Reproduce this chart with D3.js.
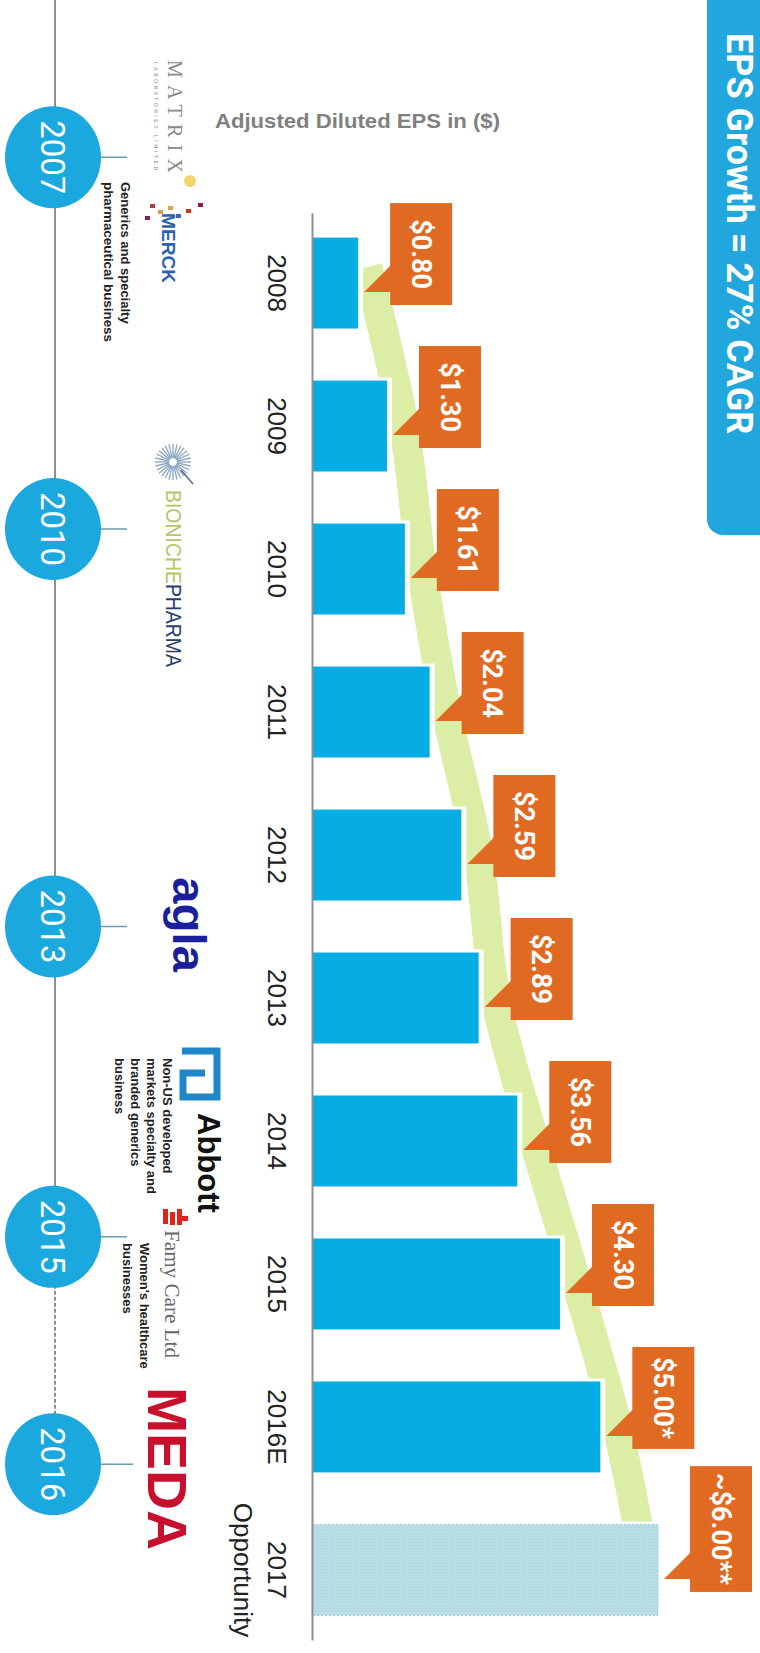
<!DOCTYPE html>
<html><head><meta charset="utf-8">
<script src="https://cdn.jsdelivr.net/npm/d3@7"></script>
<style>html,body{margin:0;padding:0;background:#fff;} svg{display:block;}</style>
</head><body>
<svg id="c" width="760" height="1653"></svg>
<script>
// ---------- data ----------
const categories = ["2008","2009","2010","2011","2012","2013","2014","2015","2016E","2017"];
const subLabels  = ["","","","","","","","","","Opportunity"];
const epsValues  = [0.80,1.30,1.61,2.04,2.59,2.89,3.56,4.30,5.00,6.00];
const valueLabels = ["$0.80","$1.30","$1.61","$2.04","$2.59","$2.89","$3.56","$4.30","$5.00*","~$6.00**"];
const isProjection = [false,false,false,false,false,false,false,false,false,true];
const timelineYears = ["2007","2010","2013","2015","2016"];
const titleText = "EPS Growth = 27% CAGR";
const axisTitle = "Adjusted Diluted EPS in ($)";

// ---------- layout ----------
const tlAnchor = ["2008","2010","2013","2015","2016E"];
const tlShift  = [-0.88,-0.28,-0.5,-0.33,0.26];

const svg = d3.select("#c");
const FONT = "Roboto, 'Liberation Sans', Arial, sans-serif";
const ARIAL = "'Liberation Sans', Arial, sans-serif";

const y = d3.scaleBand().domain(categories).range([213,1640]).paddingInner(0.364).paddingOuter(0.172);
const x = d3.scaleLinear().domain([0,6]).range([312,658]);
const bw = y.bandwidth();
const cy = c => y(c) + bw/2;

function rtext(parent, tx, ty, txt){
  return parent.append("text").attr("transform", `translate(${tx},${ty}) rotate(90)`).text(txt);
}

// defs pattern for projection bar
const defs = svg.append("defs");
const pat = defs.append("pattern").attr("id","dots").attr("width",3).attr("height",3).attr("patternUnits","userSpaceOnUse");
pat.append("rect").attr("width",3).attr("height",3).attr("fill","#b9dde7");
pat.append("rect").attr("width",1).attr("height",1).attr("fill","#a6d1dd");

// ---------- title box ----------
svg.append("rect").attr("x",707).attr("y",-20).attr("width",80).attr("height",555).attr("rx",16).attr("fill","#21A7DD");
rtext(svg, 727, 33, titleText).attr("fill","#fff").attr("font-family",FONT).attr("font-weight","bold").attr("font-size",36);

// ---------- axis title ----------
svg.append("text").attr("x",215).attr("y",128).text(axisTitle)
  .attr("fill","#808080").attr("font-family",ARIAL).attr("font-weight","bold").attr("font-size",20)
  .attr("textLength",285).attr("lengthAdjust","spacingAndGlyphs");

// ---------- trend ribbon ----------
const n = categories.length;
const ribbonPts = categories.map((c,i)=>{
  const off = i===0 ? 9 : (i===n-1 ? -12 : 17);
  return [x(epsValues[i]) + off, i===0 ? cy(c)-16 : cy(c)];
});
svg.append("path").attr("d", d3.line().curve(d3.curveCatmullRom)(ribbonPts))
  .attr("fill","none").attr("stroke","#DCEDA6").attr("stroke-width",30).attr("stroke-linecap","butt");

// ---------- bars ----------
const barsG = svg.append("g");
barsG.selectAll("rect.bg").data(categories).join("rect").attr("class","bg")
  .attr("x", x(0)).attr("y", c=>y(c)-3).attr("width",(c,i)=>x(epsValues[i])-x(0)+5).attr("height",bw+6).attr("fill","#fff");
barsG.selectAll("rect.bar").data(categories).join("rect").attr("class","bar")
  .attr("x", x(0)).attr("y", c=>y(c)).attr("width",(c,i)=>x(epsValues[i])-x(0)).attr("height",bw)
  .attr("fill",(c,i)=>isProjection[i] ? "url(#dots)" : "#06ADE4")
  .attr("stroke",(c,i)=>isProjection[i] ? "#9ccbd8" : "none")
  .attr("stroke-dasharray","2,2").attr("stroke-width",1);

// ---------- axis ----------
const ax = svg.append("g").attr("transform",`translate(${x(0)},0)`)
  .call(d3.axisLeft(y).tickSize(0).tickFormat(""));
ax.select(".domain").attr("stroke","#8e8e8e").attr("stroke-width",2);

const lab = svg.append("g").selectAll("text").data(categories).join("text")
  .attr("transform", c=>`translate(277,${cy(c)}) rotate(90)`)
  .attr("text-anchor","middle").attr("font-family",ARIAL).attr("font-size",26).attr("fill","#222");
lab.append("tspan").attr("x",0).attr("dy","0.35em").text(c=>c);
lab.filter((c,i)=>subLabels[i]).each(function(c){
  const i = categories.indexOf(c);
  d3.select(this).append("tspan").attr("x",0).attr("dy","1.3em").text(subLabels[i]);
});

// ---------- callouts ----------
const cg = svg.append("g").selectAll("g").data(categories).join("g");
cg.each(function(c,i){
  const g = d3.select(this);
  const xe = x(epsValues[i]);
  const yc = cy(c);
  const rx = xe + 32, rw = 62;
  const t = g.append("text").attr("font-family",FONT).attr("font-weight","bold").attr("font-size",27)
    .attr("fill","#fff").attr("text-anchor","middle").attr("dy","0.35em").text(valueLabels[i]);
  const len = t.node().getComputedTextLength();
  const rh = Math.max(102, len + 14);
  const rb = yc + 22, rt = rb - rh;
  g.insert("polygon","text").attr("points", [[rx+1,yc-18],[xe+6,yc+9],[rx+1,yc+9]].map(p=>p.join(",")).join(" "))
    .attr("fill","#E06A22");
  g.insert("rect","text").attr("x",rx).attr("y",rt).attr("width",rw).attr("height",rh).attr("fill","#E06A22");
  t.attr("transform",`translate(${rx+rw/2},${(rt+rb)/2}) rotate(90)`);
});

// ---------- timeline ----------
const tlY = timelineYears.map((yr,i)=> cy(tlAnchor[i]) + tlShift[i]*y.step());
const tl = svg.append("g");
tl.append("line").attr("x1",55).attr("x2",55).attr("y1",0).attr("y2",tlY[3]).attr("stroke","#8e8e8e").attr("stroke-width",2);
tl.append("line").attr("x1",55).attr("x2",55).attr("y1",tlY[3]).attr("y2",tlY[4]).attr("stroke","#8e8e8e").attr("stroke-width",2).attr("stroke-dasharray","4,2");
tl.selectAll("line.tick").data(tlY).join("line").attr("class","tick")
  .attr("x1",98).attr("x2",(d,i)=> i===4 ? 133 : 127).attr("y1",d=>d).attr("y2",d=>d).attr("stroke","#6a9cae").attr("stroke-width",1.5);
tl.selectAll("ellipse").data(tlY).join("ellipse").attr("cx",53).attr("cy",d=>d).attr("rx",48).attr("ry",51).attr("fill","#1BA8DE");
tl.selectAll("text").data(timelineYears).join("text")
  .attr("transform",(d,i)=>`translate(53,${tlY[i]}) rotate(90)`).attr("text-anchor","middle").attr("dy","0.35em")
  .attr("fill","#fff").attr("font-family",FONT).attr("font-size",33).text(d=>d);

// ---------- company logos / notes ----------
const lg = svg.append("g");
// Matrix
rtext(lg,168,60,"MATRIX").attr("font-family","'Liberation Serif', serif").attr("font-size",20).attr("fill","#8a8a8a")
  .attr("textLength",113).attr("lengthAdjust","spacing");
rtext(lg,154,62,"LABORATORIES LIMITED").attr("font-family",ARIAL).attr("font-size",5).attr("fill","#888")
  .attr("textLength",108).attr("lengthAdjust","spacing");
lg.append("circle").attr("cx",190).attr("cy",181).attr("r",6).attr("fill","#f6d46c");
[[150,204,"#b23a48"],[158,210,"#e39a4a"],[168,206,"#d9a441"],[176,214,"#2e6db4"],[186,209,"#c0392b"],[198,203,"#8e1b4d"],[145,216,"#8e1b4d"]]
  .forEach(p=>lg.append("rect").attr("x",p[0]).attr("y",p[1]).attr("width",5).attr("height",4).attr("fill",p[2]));
// Merck
rtext(lg,162,213,"MERCK").attr("font-family",ARIAL).attr("font-weight","bold").attr("font-size",18).attr("fill","#2a62b0")
  .attr("textLength",70).attr("lengthAdjust","spacingAndGlyphs");
rtext(lg,121,182,"Generics and specialty").attr("font-family",ARIAL).attr("font-weight","bold").attr("font-size",13).attr("fill","#222");
rtext(lg,104,182,"pharmaceutical business").attr("font-family",ARIAL).attr("font-weight","bold").attr("font-size",13).attr("fill","#222")
  .attr("textLength",160).attr("lengthAdjust","spacingAndGlyphs");
// Bioniche
const star = lg.append("g").attr("transform","translate(173,462)");
d3.range(28).forEach(k=>{ const a = k/28*2*Math.PI;
  star.append("line").attr("x1",4*Math.cos(a)).attr("y1",4*Math.sin(a)).attr("x2",18*Math.cos(a)).attr("y2",18*Math.sin(a))
    .attr("stroke","#6f8fb5").attr("stroke-width",1.3).attr("opacity",0.8); });
star.append("line").attr("x1",8).attr("y1",8).attr("x2",20).attr("y2",22).attr("stroke","#4a6a8f").attr("stroke-width",1.5);
const bt = lg.append("text").attr("transform","translate(166,490) rotate(90)").attr("font-family",ARIAL).attr("font-size",22)
  .attr("textLength",177).attr("lengthAdjust","spacingAndGlyphs");
bt.append("tspan").attr("fill","#b7c46a").text("BIONICHE");
bt.append("tspan").attr("fill","#2d3e6b").text("PHARMA");
// agla
rtext(lg,173,877,"agla").attr("font-family",ARIAL).attr("font-weight","bold").attr("font-size",46).attr("fill","#1b1f9b")
  .attr("textLength",95).attr("lengthAdjust","spacingAndGlyphs");
// Abbott
lg.append("path").attr("d","M182,1051 H217 V1097 H183 V1073 H205").attr("fill","none").attr("stroke","#1f86c9").attr("stroke-width",7);
rtext(lg,198,1113,"Abbott").attr("font-family",ARIAL).attr("font-weight","bold").attr("font-size",31).attr("fill","#111");
["Non-US developed","markets specialty and","branded generics","business"].forEach((s,k)=>
  rtext(lg,162.5-k*15.8,1058,s).attr("font-family",ARIAL).attr("font-weight","bold").attr("font-size",13).attr("fill","#222"));
// Famy Care
[[163,1209,5,15],[170,1212,5,13],[177,1209,5,16],[182,1216,6,5]].forEach(r=>
  lg.append("rect").attr("x",r[0]).attr("y",r[1]).attr("width",r[2]).attr("height",r[3]).attr("fill","#e2231a"));
rtext(lg,165,1230,"Famy Care Ltd").attr("font-family","'Liberation Serif', serif").attr("font-size",20).attr("fill","#666")
  .attr("textLength",128).attr("lengthAdjust","spacingAndGlyphs");
rtext(lg,140,1243,"Women's healthcare").attr("font-family",ARIAL).attr("font-weight","bold").attr("font-size",13).attr("fill","#222");
rtext(lg,123,1243,"businesses").attr("font-family",ARIAL).attr("font-weight","bold").attr("font-size",13).attr("fill","#222");
// Meda
rtext(lg,148,1387,"MEDA").attr("font-family",ARIAL).attr("font-weight","900").attr("font-size",55).attr("fill","#c8102e")
  .attr("textLength",163).attr("lengthAdjust","spacingAndGlyphs");
</script>
</body></html>
